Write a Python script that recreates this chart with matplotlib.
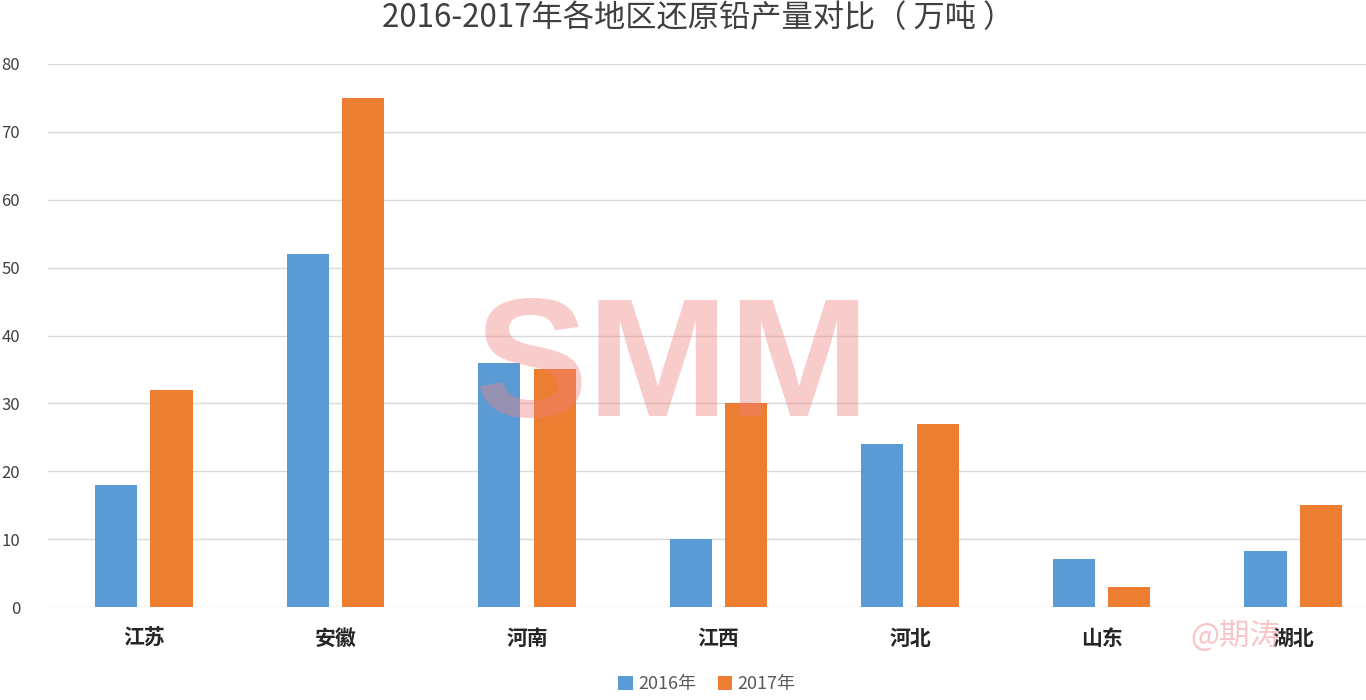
import matplotlib.pyplot as plt
import numpy as np

plt.rcParams['font.family'] = ['Noto Sans CJK SC', 'DejaVu Sans']

regions = ["江苏", "安徽", "河南", "江西", "河北", "山东", "湖北"]
y2016 = [18, 52, 36, 10, 24, 7, 8.3]
y2017 = [32, 75, 35, 30, 27, 3, 15]
yticks = [0, 10, 20, 30, 40, 50, 60, 70, 80]

fig = plt.figure(figsize=(13.66, 7), dpi=100)
# axes runs past the right edge, like the cropped original
ax = fig.add_axes([48 / 1366, 93 / 700, 1341 / 1366, 543 / 700])

x = np.arange(len(regions))
w = 0.22
ax.bar(x - 0.145, y2016, w, color="#5B9BD5", label="2016年", zorder=3)
ax.bar(x + 0.145, y2017, w, color="#ED7D31", label="2017年", zorder=3)

ax.set_xlim(-0.5, len(regions) - 0.5)
ax.set_ylim(0, 80)
ax.set_yticks(yticks)
ax.set_yticklabels([str(t) for t in yticks], fontsize=12, color="#404040")
ax.set_xticks(x)
ax.set_xticklabels(regions, fontsize=15, fontweight="bold", color="#262626")
ax.tick_params(axis="both", length=0)
ax.tick_params(axis="x", pad=15)
ax.tick_params(axis="y", pad=20)
ax.grid(axis="y", color="#d9d9d9", linewidth=1, zorder=0)
for s in ax.spines.values():
    s.set_visible(False)

fig.text(698 / 1366, 1 - 18 / 700, "2016-2017年各地区还原铅产量对比（ 万吨 ）",
         ha="center", va="center", fontsize=22.5, color="#404040")

fig.legend(loc="center", bbox_to_anchor=(707 / 1366, 16 / 700), ncol=2,
           frameon=False, fontsize=13, handlelength=0.8, handleheight=0.8,
           handletextpad=0.3, columnspacing=1.2, labelcolor="#595959")

# watermarks
fig.text(672 / 1366, 1 - 372 / 700, "SMM", ha="center", va="center",
         fontsize=122, fontweight="bold", family="Liberation Sans",
         color="#f08080", alpha=0.4, zorder=10)
fig.text(1235 / 1366, 1 - 636 / 700, "@期涛", ha="center", va="center",
         fontsize=22, color="#f4a0a0", alpha=0.6, zorder=10)

fig.savefig("out.png", dpi=100, facecolor="white")
